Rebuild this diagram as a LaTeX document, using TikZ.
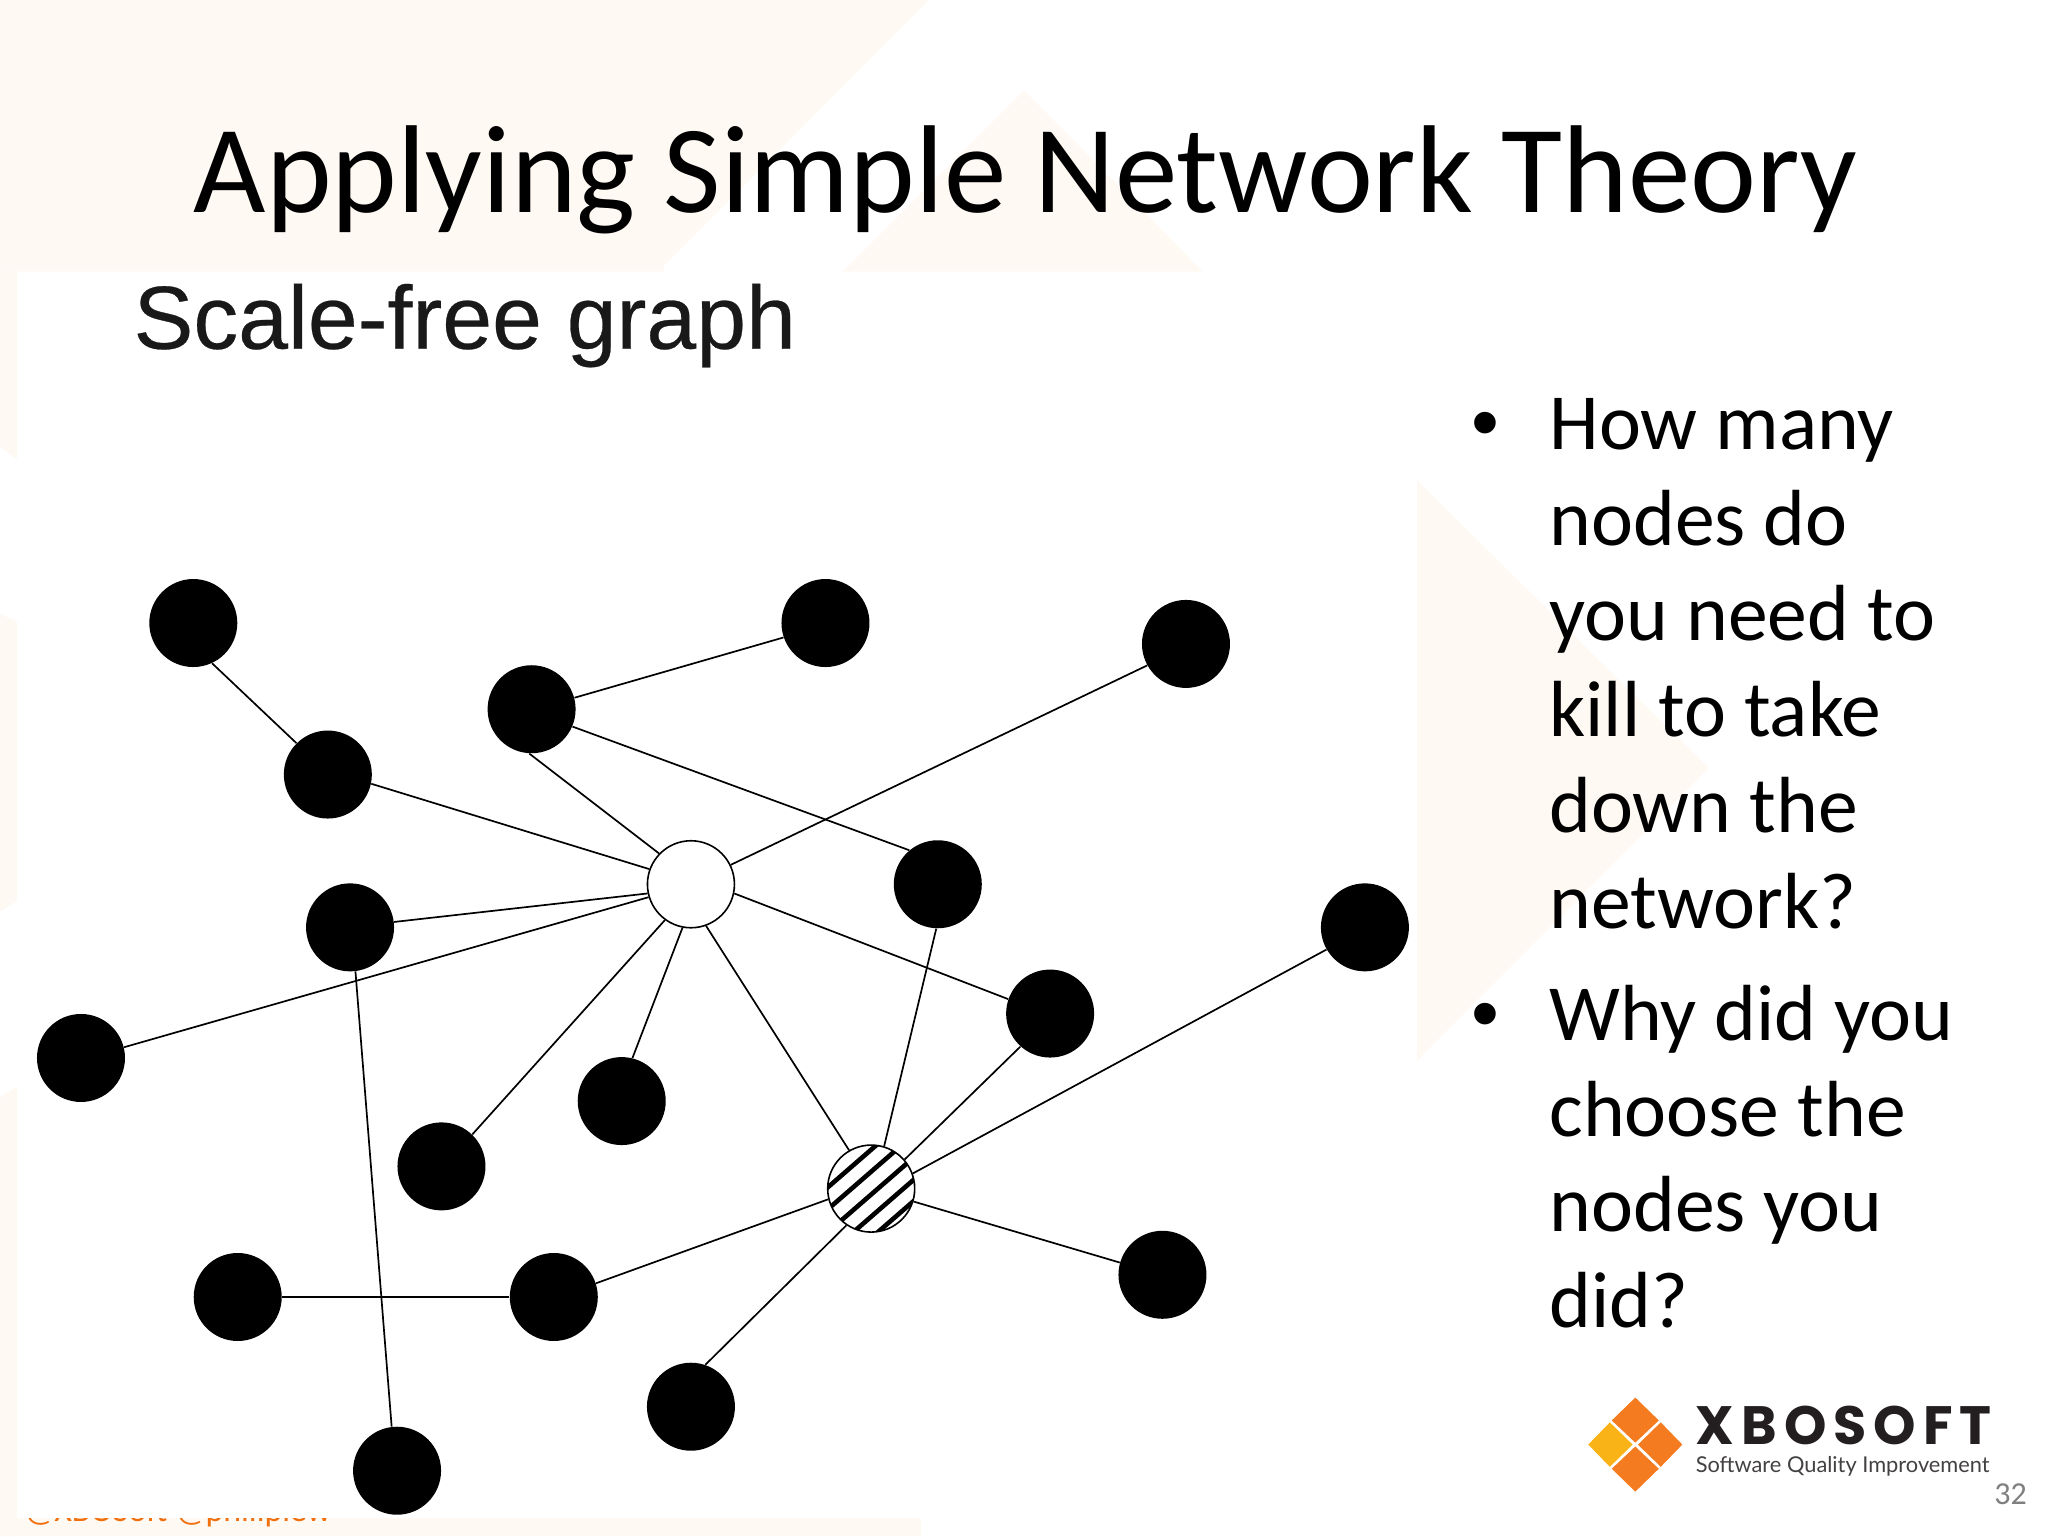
\documentclass[tikz,border=0pt]{standalone}
\usepackage{fontspec}
\usetikzlibrary{calc}
\setmainfont{Carlito}
\newfontfamily\arialf{Liberation Sans}[FakeBold=0.3]
\newfontfamily\bulletf{Liberation Sans}
\newfontfamily\logof{Poppins}[LetterSpace=13]
\newfontfamily\logos{Lato}
\definecolor{cream}{HTML}{FFF9F4}
\definecolor{logoor}{HTML}{F47B20}
\definecolor{logoye}{HTML}{F9B316}
\definecolor{logotx}{HTML}{231F20}
\definecolor{footor}{HTML}{F0700F}
\tikzset{
  dot/.style={circle,fill=black,inner sep=0pt,minimum size=44pt},
  hollow/.style={circle,draw=black,line width=0.8pt,fill=white,inner sep=0pt,minimum size=43.5pt},
  hatched/.style={circle,draw=black,line width=0.8pt,fill=white,inner sep=0pt,minimum size=43.5pt,
    path picture={
      \foreach \s in {-22.5,-9.8,3.4,16.2,28.5}{
        \draw[line width=2.3pt] ($(path picture bounding box.center)+(\s*0.656+60*0.755,\s*0.755-60*0.656)$)
          -- ($(path picture bounding box.center)+(\s*0.656-60*0.755,\s*0.755+60*0.656)$);
      }
    }},
  edge/.style={draw=black,line width=0.85pt},
  bodytext/.style={font=\fontsize{39.8pt}{47.85pt}\selectfont,anchor=base west,align=left,inner sep=0pt,text=black},
  bulletmark/.style={font=\bulletf\fontsize{39.8pt}{47.85pt}\selectfont,anchor=base,inner sep=0pt,text=black}
}
\begin{document}
\begin{tikzpicture}[x=0.653061pt,y=-0.653061pt]
\useasboundingbox (0,0) rectangle (1568,1176);
\fill[white] (0,0) rectangle (1568,1176);
% background motifs
\fill[cream] (0,0) -- (711,0) -- (508,204) -- (508,208) -- (0,208) -- cycle;
\fill[cream] (784,69) -- (645,208) -- (921,208) -- cycle;
\fill[cream] (0,208) -- (13,208) -- (13,352) -- (0,342) -- cycle;
\fill[cream] (0,470) -- (13,476) -- (13,690) -- (0,698) -- cycle;
\fill[cream] (0,840) -- (13,832) -- (13,1176) -- (0,1176) -- cycle;
\fill[cream] (0,1160) rectangle (705,1176);
\fill[cream] (1085,368) -- (1308,588) -- (1085,812) -- cycle;
% clipped footer
\node[anchor=base west,inner sep=0pt,text=footor,font=\fontsize{17pt}{20pt}\selectfont] (foot) at (18,1165) {@XBOSoft @philiplew};
% pasted picture
\fill[white] (13,208) rectangle (1085,1162);
% title
\node[anchor=base west,inner sep=0pt,font=\fontsize{62.5pt}{70pt}\selectfont] (title) at (148,163) {Applying Simple Network Theory};
\node[anchor=base west,inner sep=0pt,text=black!90,font=\arialf\fontsize{44.8pt}{50pt}\selectfont] (sub) at (102,267) {Scale-free graph};
% graph
\node[dot] (a) at (148,477) {};
\node[dot] (b) at (632,477) {};
\node[dot] (c) at (908,493) {};
\node[dot] (d) at (407,543) {};
\node[dot] (e) at (251,593) {};
\node[hollow] (hub) at (529,677) {};
\node[dot] (f) at (718,677) {};
\node[dot] (g) at (1045,710) {};
\node[dot] (h) at (268,710) {};
\node[dot] (i) at (804,776) {};
\node[dot] (j) at (62,810) {};
\node[dot] (k) at (476,843) {};
\node[dot] (l) at (338,893) {};
\node[hatched] (hat) at (667,910) {};
\node[dot] (m) at (182,993) {};
\node[dot] (n) at (424,993) {};
\node[dot] (o) at (890,976) {};
\node[dot] (p) at (529,1077) {};
\node[dot] (q) at (304,1126) {};
\foreach \u/\ua/\v/\va in {a/-65/e/135,d/15/b/199,d/-23/f/130,d/-93/hub/136,e/-12/hub/160,c/209/hub/26,h/7/hub/192,j/14/hub/197,hub/-12/i/161,hub/-101/k/76,hub/-126/l/46,hub/-70/hat/120,f/-92/hat/73,i/-132.5/hat/41,g/210/hat/20,o/164/hat/-17,n/18/hat/194,p/71/hat/236,m/0/n/180,h/-83/q/97}{
  \path[edge] (\u.\ua) -- (\v.\va);
}
% bullets
\node[bulletmark] (b1) at (1137,344) {•};
\node[bulletmark] (b2) at (1137,797) {•};
\node[bodytext] (t1) at (1186,710.5) {How many\\nodes do\\you need to\\kill to take\\down the\\network?};
\node[bodytext] (t2) at (1186,1016.5) {Why did you\\choose the\\nodes you\\did?};
% logo
\fill[logoor] (1252,1070) -- (1270,1087.5) -- (1252,1104.5) -- (1234,1087.5) -- cycle;
\fill[logoor] (1271.5,1089) -- (1288,1106) -- (1271.5,1123) -- (1254,1106) -- cycle;
\fill[logoye] (1232.5,1089) -- (1250,1106) -- (1232.5,1123) -- (1216,1106) -- cycle;
\fill[logoor] (1252,1107.5) -- (1270,1124.5) -- (1252,1142) -- (1234,1124.5) -- cycle;
\node[anchor=base west,inner sep=0pt,text=logotx,font=\logof\bfseries\fontsize{27pt}{30pt}\selectfont] (lg) at (1298,1106) {XBOSOFT};
\node[anchor=base west,inner sep=0pt,text=logotx!85,font=\logos\fontsize{10.9pt}{13pt}\selectfont] (ls) at (1298,1127) {Software Quality Improvement};
\node[anchor=base east,inner sep=0pt,text=black!50,font=\fontsize{16pt}{18pt}\selectfont] (pg) at (1552,1152) {32};
\end{tikzpicture}
\end{document}
